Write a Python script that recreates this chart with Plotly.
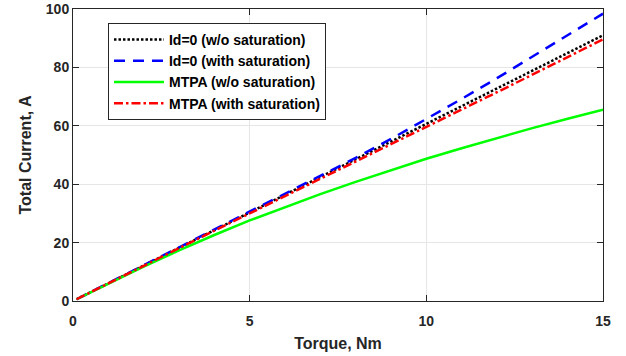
import plotly.graph_objects as go

torque = [0.1, 1, 2, 3, 4, 5, 6, 7, 8, 9, 10, 11, 12, 13, 14, 15]
id0_wo_sat = [0.6, 6.07, 12.1, 18.2, 24.3, 30.3, 36.4, 42.5, 48.6, 54.6, 60.7, 66.8, 72.8, 78.9, 85.0, 91.0]
id0_with_sat = [0.6, 6.1, 12.1, 18.2, 24.3, 30.4, 36.5, 42.7, 49.0, 55.5, 62.3, 69.2, 76.3, 83.6, 90.9, 98.4]
mtpa_wo_sat = [0.6, 6.0, 11.8, 17.3, 22.6, 27.6, 32.2, 36.6, 40.8, 44.8, 48.7, 52.3, 55.8, 59.2, 62.4, 65.5]
mtpa_with_sat = [0.6, 6.07, 12.1, 18.1, 24.1, 30.0, 35.9, 41.8, 47.7, 53.6, 59.5, 65.5, 71.5, 77.5, 83.5, 89.6]

names = ["Id=0 (w/o saturation)", "Id=0 (with saturation)", "MTPA (w/o saturation)", "MTPA (with saturation)"]
x_ticks = [0, 5, 10, 15]
y_ticks = [0, 20, 40, 60, 80, 100]

fig = go.Figure()
styles = [("black", "2.5px,2px"), ("blue", "11px,8px"), ("#00ff00", "solid"), ("red", "9px,3px,2.5px,3px")]
for ys, name, (c, d) in zip([id0_wo_sat, id0_with_sat, mtpa_wo_sat, mtpa_with_sat], names, styles):
    fig.add_trace(go.Scatter(x=torque, y=ys, mode="lines", name=f"<b>{name}</b>",
                             line=dict(color=c, dash=d, width=2.5)))

FONT = "Liberation Sans, Arial"
axis_common = dict(showline=True, linecolor="#262626", linewidth=1, mirror="ticks",
                   ticks="inside", ticklen=6, tickcolor="#262626",
                   showgrid=True, gridcolor="#e6e6e6", gridwidth=1, zeroline=False,
                   automargin=False,
                   tickfont=dict(family=FONT, size=14, color="#262626"),
                   title_font=dict(family=FONT, size=16, color="#262626"))

fig.update_xaxes(range=[0, 15], tickvals=x_ticks, ticktext=[f"<b>{v}</b>" for v in x_ticks],
                 title_text="<b>Torque, Nm</b>", title_standoff=10, ticklabelstandoff=7, **axis_common)
fig.update_yaxes(range=[0, 100], tickvals=y_ticks, ticktext=[f"<b>{v}</b>" for v in y_ticks],
                 title_text="<b>Total Current, A</b>", title_standoff=10, **axis_common)

fig.update_layout(
    width=626, height=356,
    margin=dict(l=73, r=23, t=9, b=55),
    plot_bgcolor="white", paper_bgcolor="white",
    font=dict(family=FONT, color="#262626"),
    legend=dict(x=0.066, y=0.952, xanchor="left", yanchor="top",
                bgcolor="white", bordercolor="#262626", borderwidth=1,
                font=dict(family=FONT, size=14, color="black"),
                tracegroupgap=0, itemwidth=50),
)

fig.write_html("out.html")
